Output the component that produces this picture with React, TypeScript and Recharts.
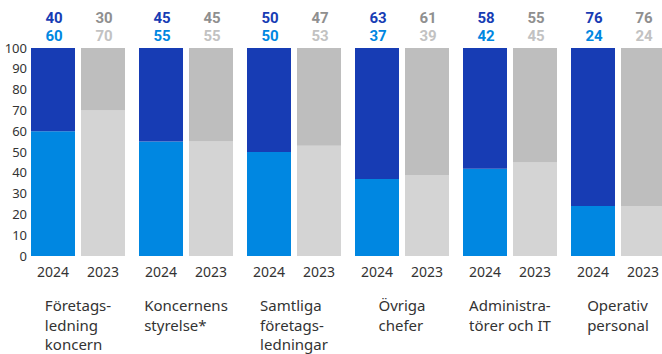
import { Bar, BarChart, LabelList, XAxis, YAxis } from "recharts";

const categories = [
  "Företags-\nledning\nkoncern",
  "Koncernens\nstyrelse*",
  "Samtliga\nföretags-\nledningar",
  "Övriga\nchefer",
  "Administra-\ntörer och IT",
  "Operativ\npersonal",
];
const years = ["2024", "2023"];
const lower2024 = [60, 55, 50, 37, 42, 24];
const upper2024 = [40, 45, 50, 63, 58, 76];
const lower2023 = [70, 55, 53, 39, 45, 24];
const upper2023 = [30, 45, 47, 61, 55, 76];
const yTicks = [0, 10, 20, 30, 40, 50, 60, 70, 80, 90, 100];

const DARK_BLUE = "#173cb4";
const LIGHT_BLUE = "#0087e1";
const GRAY = "#bebebe";
const LIGHT_GRAY = "#d4d4d4";
const FONT = "'Noto Sans', sans-serif";

const data = categories.map((name, i) => ({
  name,
  lower2024: lower2024[i],
  upper2024: upper2024[i],
  lower2023: lower2023[i],
  upper2023: upper2023[i],
}));

let ctx: CanvasRenderingContext2D | null = null;
function textWidth(s: string) {
  if (!ctx) ctx = document.createElement("canvas").getContext("2d");
  if (!ctx) return s.length * 8;
  ctx.font = "15px 'Noto Sans'";
  return ctx.measureText(s).width;
}

function CategoryTick({ x, y, payload }: any) {
  const lines = String(payload.value).split("\n");
  const w = Math.max(...lines.map(textWidth));
  return (
    <g fontFamily={FONT} fill="#333">
      <text x={x - 25} y={y + 21} textAnchor="middle" fontSize={14}>
        {years[0]}
      </text>
      <text x={x + 25} y={y + 21} textAnchor="middle" fontSize={14}>
        {years[1]}
      </text>
      {lines.map((l, i) => (
        <text key={i} x={x - w / 2} y={y + 55 + i * 19.5} fontSize={15}>
          {l}
        </text>
      ))}
    </g>
  );
}

// both shares printed above the bar: upper share on top, lower share beneath
function pairLabel(upper: number[], lower: number[], topColor: string, bottomColor: string) {
  return (props: any) => {
    const { x, y, width, index } = props;
    const cx = x + width / 2 + 1;
    return (
      <g fontFamily="Roboto, sans-serif" fontWeight={700} fontSize={15} textAnchor="middle">
        <text x={cx} y={y - 25} fill={topColor}>
          {upper[index]}
        </text>
        <text x={cx} y={y - 7} fill={bottomColor}>
          {lower[index]}
        </text>
      </g>
    );
  };
}

export default function App() {
  return (
    <div style={{ position: "absolute", left: 0, top: 0 }}>
      <BarChart
        width={672}
        height={354}
        data={data}
        margin={{ top: 48, right: 0, left: 0, bottom: 0 }}
        barGap={6}
        barSize={44}
      >
        <XAxis
          dataKey="name"
          axisLine={false}
          tickLine={false}
          tickSize={0}
          tickMargin={0}
          height={98}
          interval={0}
          tick={<CategoryTick />}
        />
        <YAxis
          width={24}
          domain={[0, 100]}
          ticks={yTicks}
          axisLine={false}
          tickLine={false}
          tickSize={0}
          tickMargin={-3}
          interval={0}
          tick={{ fontSize: 13, fill: "#333", fontFamily: FONT }}
        />
        <Bar dataKey="lower2024" stackId="a" fill={LIGHT_BLUE} isAnimationActive={false} />
        <Bar dataKey="upper2024" stackId="a" fill={DARK_BLUE} isAnimationActive={false}>
          <LabelList content={pairLabel(upper2024, lower2024, DARK_BLUE, LIGHT_BLUE)} />
        </Bar>
        <Bar dataKey="lower2023" stackId="b" fill={LIGHT_GRAY} isAnimationActive={false} />
        <Bar dataKey="upper2023" stackId="b" fill={GRAY} isAnimationActive={false}>
          <LabelList content={pairLabel(upper2023, lower2023, "#8f8f8f", "#c2c2c2")} />
        </Bar>
      </BarChart>
    </div>
  );
}
